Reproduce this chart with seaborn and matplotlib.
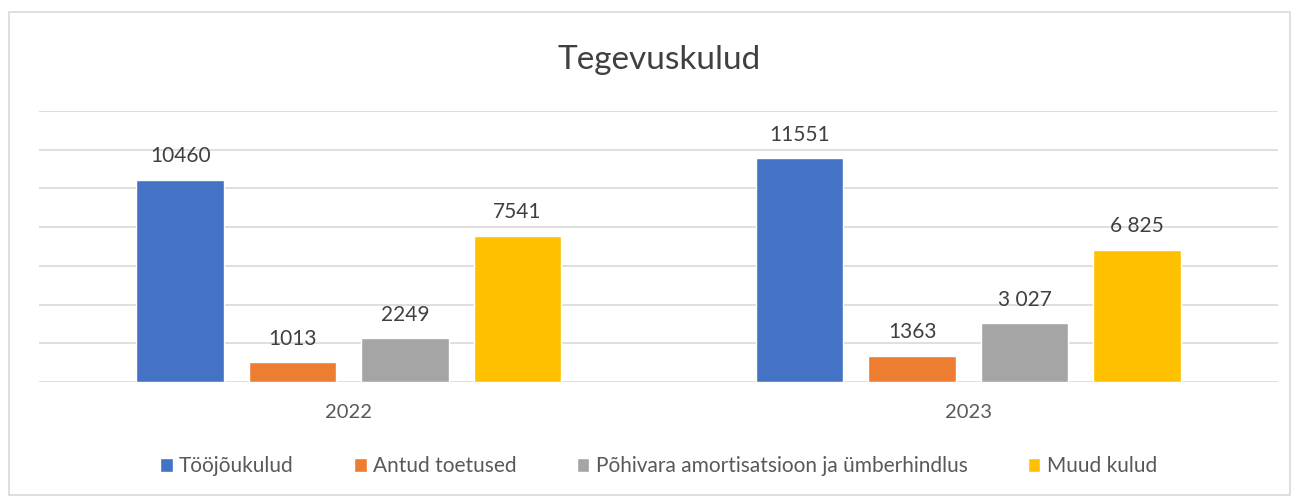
import matplotlib.pyplot as plt
import matplotlib.patches as patches
import seaborn as sns
import pandas as pd

# Andmed
aastad = ['2022', '2023']
kategooriad = ['Tööjõukulud', 'Antud toetused', 'Põhivara amortisatsioon ja ümberhindlus', 'Muud kulud']
kulud_2022 = [10460, 1013, 2249, 7541]
kulud_2023 = [11551, 1363, 3027, 6825]
sildid_2022 = ['10460', '1013', '2249', '7541']
sildid_2023 = ['11551', '1363', '3 027', '6 825']
varvid = ['#4472C4', '#ED7D31', '#A5A5A5', '#FFC000']

rows = []
for kat, v22, v23 in zip(kategooriad, kulud_2022, kulud_2023):
    rows.append({'Aasta': '2022', 'Kategooria': kat, 'Summa': v22})
    rows.append({'Aasta': '2023', 'Kategooria': kat, 'Summa': v23})
df = pd.DataFrame(rows)

sns.set_theme(style='white')
plt.rcParams['font.family'] = ['Lato', 'DejaVu Sans']

fig = plt.figure(figsize=(12.95, 4.96), dpi=100)
ax = fig.add_axes([39 / 1295, 0.2298, 1239 / 1295, 0.5464])

sns.barplot(data=df, x='Aasta', y='Summa', hue='Kategooria', order=aastad,
            hue_order=kategooriad, palette=varvid, width=0.726, gap=0.22,
            saturation=1, ax=ax)

# Väärtuste sildid
for cont, kat in zip(ax.containers, kategooriad):
    i = kategooriad.index(kat)
    ax.bar_label(cont, labels=[sildid_2022[i], sildid_2023[i]], padding=10,
                 fontsize=15, color='#404040')

ax.set_ylim(0, 14000)
ax.set_xlim(-0.5, 1.5)
ax.set_yticks(range(0, 14001, 2000))
ax.yaxis.grid(True, color='#d9d9d9', linewidth=1.2)
ax.set_axisbelow(True)
ax.tick_params(axis='y', left=False, labelleft=False)
ax.tick_params(axis='x', bottom=False, labelsize=14.5, labelcolor='#595959', pad=10)
for s in ax.spines.values():
    s.set_visible(False)
ax.set_xlabel('')
ax.set_ylabel('')

fig.suptitle('Tegevuskulud', x=0.509, y=0.91, fontsize=24, color='#404040')

ax.legend(loc='upper center', bbox_to_anchor=(0.5, -0.205), ncol=4, frameon=False,
          fontsize=15, labelcolor='#595959', handlelength=0.6, handleheight=0.6,
          handletextpad=0.3, columnspacing=2.9)

# Raam
fig.patches.append(patches.Rectangle((9 / 1295, 1 / 496), 1281 / 1295, 483 / 496,
                                     transform=fig.transFigure, fill=False,
                                     edgecolor='#d9d9d9', linewidth=1.2))

fig.savefig('out.png', dpi=100)
